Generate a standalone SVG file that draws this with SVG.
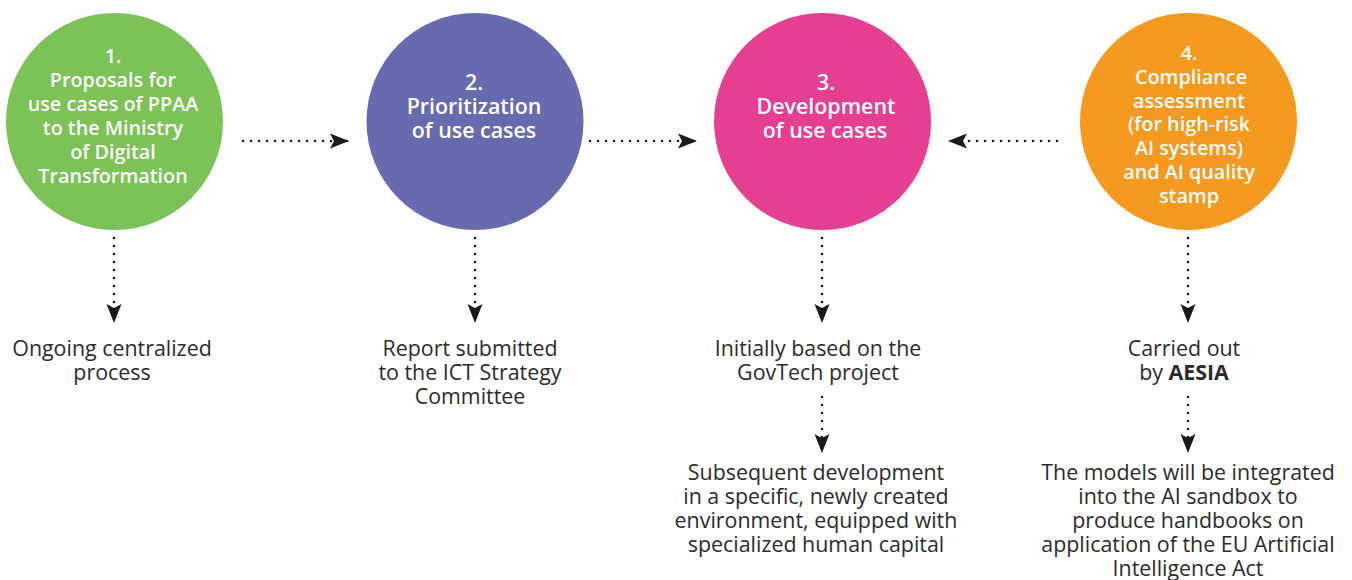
<svg xmlns="http://www.w3.org/2000/svg" width="1352" height="580" viewBox="0 0 1352 580">
<style>
.c{font-family:"Open Sans","Noto Sans","Liberation Sans",sans-serif;font-size:19.8px;font-weight:600;fill:#fff;text-anchor:middle}
.b{font-size:21.4px}
.t{font-family:"Open Sans","Noto Sans","Liberation Sans",sans-serif;font-size:21.4px;fill:#2b2b2b;text-anchor:middle}
.d{stroke:#1a1a1a;stroke-width:2.6;stroke-linecap:round;stroke-dasharray:0 8;fill:none}
</style>
<defs>
<marker id="ah" viewBox="-20 -8 21 16" markerWidth="21" markerHeight="16" refX="0" refY="0" orient="auto" markerUnits="userSpaceOnUse">
<path d="M0,0 L-19,-7.5 L-15,0 L-19,7.5 Z" fill="#1a1a1a"/>
</marker>
</defs>
<g id="n1">
<circle cx="114.5" cy="121.5" r="108.5" fill="#7bc257"/>
<text class="c"><tspan x="113" y="63">1.</tspan><tspan x="113" y="87">Proposals for</tspan><tspan x="113" y="111">use cases of PPAA</tspan><tspan x="113" y="135">to the Ministry</tspan><tspan x="113" y="159">of Digital</tspan><tspan x="113" y="183">Transformation</tspan></text>
</g>
<g id="n2">
<circle cx="475" cy="121.5" r="108.5" fill="#676aaf"/>
<text class="c b"><tspan x="474" y="90">2.</tspan><tspan x="474" y="114">Prioritization</tspan><tspan x="474" y="138">of use cases</tspan></text>
</g>
<g id="n3">
<circle cx="822.5" cy="121.5" r="108.5" fill="#e63f92"/>
<text class="c b"><tspan x="826" y="90">3.</tspan><tspan x="826" y="114">Development</tspan><tspan x="825" y="138">of use cases</tspan></text>
</g>
<g id="n4">
<circle cx="1188.5" cy="121.5" r="108.5" fill="#f6991f"/>
<text class="c"><tspan x="1189" y="60">4.</tspan><tspan x="1191" y="84">Compliance</tspan><tspan x="1189" y="108">assessment</tspan><tspan x="1189" y="131">(for high-risk</tspan><tspan x="1189" y="155">AI systems)</tspan><tspan x="1189" y="179">and AI quality</tspan><tspan x="1189" y="203">stamp</tspan></text>
</g>
<g id="l1"><text class="t"><tspan x="112" y="356">Ongoing centralized</tspan><tspan x="112" y="380">process</tspan></text></g>
<g id="l2"><text class="t"><tspan x="470" y="356">Report submitted</tspan><tspan x="470" y="380">to the ICT Strategy</tspan><tspan x="470" y="404">Committee</tspan></text></g>
<g id="l3"><text class="t"><tspan x="818" y="356">Initially based on the</tspan><tspan x="818" y="380">GovTech project</tspan></text></g>
<g id="l4"><text class="t"><tspan x="1184" y="356">Carried out</tspan><tspan x="1184" y="380">by <tspan font-weight="700">AESIA</tspan></tspan></text></g>
<g id="l5"><text class="t"><tspan x="816" y="480">Subsequent development</tspan><tspan x="816" y="504">in a specific, newly created</tspan><tspan x="816" y="528">environment, equipped with</tspan><tspan x="816" y="552">specialized human capital</tspan></text></g>
<g id="l6"><text class="t"><tspan x="1188" y="480">The models will be integrated</tspan><tspan x="1188" y="504">into the AI sandbox to</tspan><tspan x="1188" y="528">produce handbooks on</tspan><tspan x="1188" y="552">application of the EU Artificial</tspan><tspan x="1188" y="576">Intelligence Act</tspan></text></g>
<g id="connectors">
<line class="d" x1="243" y1="141" x2="349" y2="141" marker-end="url(#ah)"/>
<line class="d" x1="590" y1="141" x2="697" y2="141" marker-end="url(#ah)"/>
<line class="d" x1="1057" y1="141" x2="948" y2="141" marker-end="url(#ah)"/>
<line class="d" x1="114" y1="238" x2="114" y2="323" marker-end="url(#ah)"/>
<line class="d" x1="475" y1="238" x2="475" y2="323" marker-end="url(#ah)"/>
<line class="d" x1="822" y1="238" x2="822" y2="323" marker-end="url(#ah)"/>
<line class="d" x1="1188" y1="238" x2="1188" y2="323" marker-end="url(#ah)"/>
<line class="d" x1="822" y1="397" x2="822" y2="453" marker-end="url(#ah)"/>
<line class="d" x1="1188" y1="397" x2="1188" y2="453" marker-end="url(#ah)"/>
</g>
</svg>
